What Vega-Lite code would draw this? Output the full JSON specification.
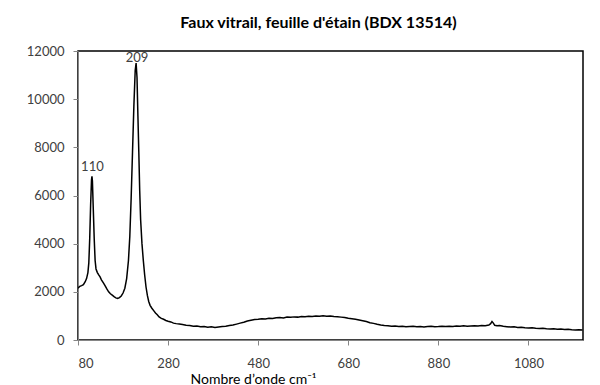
{
  "$schema": "https://vega.github.io/schema/vega-lite/v6.json",
  "width": 505,
  "height": 289,
  "autosize": {"type": "none"},
  "padding": {"left": 78, "top": 51, "right": 17, "bottom": 45},
  "background": "white",
  "title": {
    "text": "Faux vitrail, feuille d'étain (BDX 13514)",
    "font": "Lato",
    "fontSize": 16,
    "fontWeight": "bold",
    "color": "#000000",
    "anchor": "middle",
    "dx": -12,
    "offset": 14
  },
  "config": {
    "view": {"stroke": "#000000", "strokeWidth": 1.5},
    "axis": {
      "grid": false,
      "domainColor": "#868686",
      "tickColor": "#868686",
      "labelColor": "#404040",
      "labelFont": "Lato",
      "labelFontSize": 13,
      "titleFont": "Lato",
      "titleFontSize": 14,
      "titleFontWeight": "normal",
      "titleColor": "#000000",
      "format": "d"
    }
  },
  "datasets": {
    "spectrum": [
      {"wn": 80, "i": 2150}, {"wn": 84, "i": 2230}, {"wn": 88, "i": 2260}, {"wn": 92, "i": 2300},
      {"wn": 96, "i": 2420}, {"wn": 99, "i": 2550}, {"wn": 102, "i": 2800}, {"wn": 104, "i": 3200},
      {"wn": 106, "i": 4200}, {"wn": 108, "i": 5600}, {"wn": 110, "i": 6650}, {"wn": 111, "i": 6800},
      {"wn": 112, "i": 6600}, {"wn": 114, "i": 5400}, {"wn": 116, "i": 4200}, {"wn": 118, "i": 3300},
      {"wn": 120, "i": 2950}, {"wn": 123, "i": 2800}, {"wn": 126, "i": 2700}, {"wn": 129, "i": 2620},
      {"wn": 132, "i": 2500}, {"wn": 136, "i": 2380}, {"wn": 140, "i": 2260}, {"wn": 144, "i": 2120},
      {"wn": 148, "i": 2000}, {"wn": 152, "i": 1920}, {"wn": 156, "i": 1860}, {"wn": 160, "i": 1800},
      {"wn": 164, "i": 1750}, {"wn": 168, "i": 1730}, {"wn": 172, "i": 1760}, {"wn": 176, "i": 1830},
      {"wn": 180, "i": 1950}, {"wn": 184, "i": 2150}, {"wn": 188, "i": 2550}, {"wn": 192, "i": 3300},
      {"wn": 195, "i": 4300}, {"wn": 198, "i": 5900}, {"wn": 201, "i": 7800}, {"wn": 204, "i": 9700},
      {"wn": 207, "i": 11200}, {"wn": 209, "i": 11500}, {"wn": 211, "i": 10900}, {"wn": 213, "i": 9300},
      {"wn": 215, "i": 7800}, {"wn": 217, "i": 6200}, {"wn": 219, "i": 5000}, {"wn": 222, "i": 4000},
      {"wn": 225, "i": 3300}, {"wn": 228, "i": 2700}, {"wn": 231, "i": 2200}, {"wn": 234, "i": 1850},
      {"wn": 237, "i": 1600}, {"wn": 240, "i": 1440}, {"wn": 244, "i": 1320}, {"wn": 248, "i": 1220},
      {"wn": 252, "i": 1120}, {"wn": 256, "i": 1050}, {"wn": 260, "i": 960}, {"wn": 265, "i": 900},
      {"wn": 270, "i": 860}, {"wn": 275, "i": 810}, {"wn": 280, "i": 780}, {"wn": 286, "i": 750},
      {"wn": 292, "i": 700}, {"wn": 298, "i": 680}, {"wn": 305, "i": 660}, {"wn": 312, "i": 640},
      {"wn": 320, "i": 610}, {"wn": 328, "i": 600}, {"wn": 336, "i": 570}, {"wn": 344, "i": 580},
      {"wn": 352, "i": 550}, {"wn": 360, "i": 560}, {"wn": 368, "i": 530}, {"wn": 376, "i": 545},
      {"wn": 384, "i": 520}, {"wn": 392, "i": 540}, {"wn": 400, "i": 560}, {"wn": 408, "i": 570},
      {"wn": 416, "i": 600}, {"wn": 424, "i": 620}, {"wn": 432, "i": 660}, {"wn": 440, "i": 700},
      {"wn": 448, "i": 740}, {"wn": 456, "i": 790}, {"wn": 464, "i": 820}, {"wn": 472, "i": 850},
      {"wn": 480, "i": 860}, {"wn": 488, "i": 880}, {"wn": 496, "i": 870}, {"wn": 504, "i": 900},
      {"wn": 512, "i": 890}, {"wn": 520, "i": 920}, {"wn": 528, "i": 930}, {"wn": 536, "i": 910},
      {"wn": 544, "i": 950}, {"wn": 552, "i": 940}, {"wn": 560, "i": 960}, {"wn": 568, "i": 950},
      {"wn": 576, "i": 980}, {"wn": 584, "i": 970}, {"wn": 592, "i": 990}, {"wn": 600, "i": 980},
      {"wn": 608, "i": 1000}, {"wn": 616, "i": 990}, {"wn": 624, "i": 1010}, {"wn": 632, "i": 990},
      {"wn": 640, "i": 1000}, {"wn": 648, "i": 980}, {"wn": 656, "i": 970}, {"wn": 664, "i": 950},
      {"wn": 672, "i": 930}, {"wn": 680, "i": 900}, {"wn": 688, "i": 880}, {"wn": 696, "i": 860},
      {"wn": 704, "i": 830}, {"wn": 712, "i": 800}, {"wn": 720, "i": 770}, {"wn": 728, "i": 720},
      {"wn": 736, "i": 690}, {"wn": 744, "i": 650}, {"wn": 752, "i": 620}, {"wn": 760, "i": 600},
      {"wn": 768, "i": 590}, {"wn": 776, "i": 570}, {"wn": 784, "i": 580}, {"wn": 792, "i": 560},
      {"wn": 800, "i": 570}, {"wn": 808, "i": 550}, {"wn": 816, "i": 560}, {"wn": 824, "i": 570},
      {"wn": 832, "i": 555}, {"wn": 840, "i": 560}, {"wn": 848, "i": 545}, {"wn": 856, "i": 560},
      {"wn": 864, "i": 570}, {"wn": 872, "i": 555}, {"wn": 880, "i": 560}, {"wn": 888, "i": 570},
      {"wn": 896, "i": 560}, {"wn": 904, "i": 575}, {"wn": 912, "i": 565}, {"wn": 920, "i": 580},
      {"wn": 928, "i": 570}, {"wn": 936, "i": 590}, {"wn": 944, "i": 575}, {"wn": 952, "i": 585},
      {"wn": 960, "i": 590}, {"wn": 968, "i": 580}, {"wn": 976, "i": 600}, {"wn": 984, "i": 590},
      {"wn": 992, "i": 620}, {"wn": 996, "i": 680}, {"wn": 999, "i": 770}, {"wn": 1002, "i": 700},
      {"wn": 1005, "i": 610}, {"wn": 1010, "i": 590}, {"wn": 1016, "i": 600}, {"wn": 1024, "i": 570},
      {"wn": 1032, "i": 555}, {"wn": 1040, "i": 540}, {"wn": 1048, "i": 545}, {"wn": 1056, "i": 520},
      {"wn": 1064, "i": 530}, {"wn": 1072, "i": 510}, {"wn": 1080, "i": 500}, {"wn": 1088, "i": 505},
      {"wn": 1096, "i": 490}, {"wn": 1104, "i": 480}, {"wn": 1112, "i": 485}, {"wn": 1120, "i": 470},
      {"wn": 1128, "i": 460}, {"wn": 1136, "i": 470}, {"wn": 1144, "i": 450}, {"wn": 1152, "i": 455},
      {"wn": 1160, "i": 440}, {"wn": 1168, "i": 445}, {"wn": 1176, "i": 430}, {"wn": 1184, "i": 420},
      {"wn": 1192, "i": 425}, {"wn": 1200, "i": 415}
    ],
    "peaks": [
      {"wn": 112, "i": 6900, "label": "110"},
      {"wn": 211, "i": 11400, "label": "209"}
    ]
  },
  "layer": [
    {
      "data": {"name": "spectrum"},
      "mark": {"type": "line", "color": "#000000", "strokeWidth": 1.5, "clip": true},
      "encoding": {
        "x": {
          "field": "wn",
          "type": "quantitative",
          "scale": {"domain": [80, 1201], "nice": false, "zero": false},
          "axis": {
            "values": [80, 280, 480, 680, 880, 1080],
            "tickSize": 5,
            "labelPadding": 12,
            "title": "Nombre d’onde cm⁻¹",
            "titleAnchor": "start",
            "titleAlign": "left",
            "titleX": 112,
            "titleY": 43,
            "titleBaseline": "alphabetic"
          }
        },
        "y": {
          "field": "i",
          "type": "quantitative",
          "scale": {"domain": [0, 12000], "nice": false},
          "axis": {
            "values": [0, 2000, 4000, 6000, 8000, 10000, 12000],
            "tickSize": 5,
            "labelPadding": 9,
            "title": null
          }
        }
      }
    },
    {
      "data": {"name": "peaks"},
      "mark": {"type": "text", "font": "Lato", "fontSize": 13, "color": "#404040", "baseline": "bottom", "align": "center"},
      "encoding": {
        "x": {"field": "wn", "type": "quantitative"},
        "y": {"field": "i", "type": "quantitative"},
        "text": {"field": "label"}
      }
    }
  ]
}
